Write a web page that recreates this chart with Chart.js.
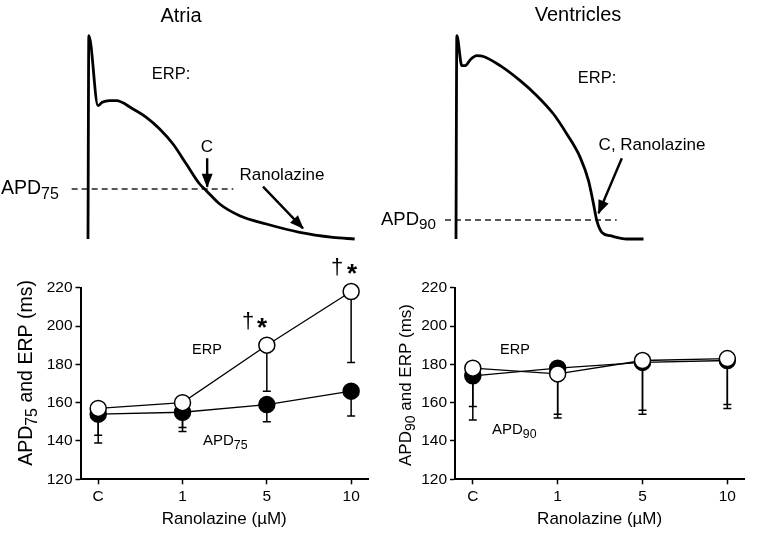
<!DOCTYPE html>
<html><head><meta charset="utf-8">
<script src="https://cdn.jsdelivr.net/npm/chart.js@4.4.1/dist/chart.umd.min.js"></script>
<style>
html,body{margin:0;padding:0;background:#fff;width:757px;height:543px;overflow:hidden}
canvas{position:absolute;display:block}
</style></head><body>
<canvas id="apA" width="378" height="250" style="left:0;top:0"></canvas>
<canvas id="apV" width="379" height="250" style="left:378px;top:0"></canvas>
<canvas id="barA" width="378" height="293" style="left:0;top:250px"></canvas>
<canvas id="barV" width="379" height="293" style="left:378px;top:250px"></canvas>
<script>
// ---------- data ----------
const categories = ['C', '1', '5', '10'];
const yTicks = [120, 140, 160, 180, 200, 220];

const atriaERP = [157, 160, 190, 218];
const atriaERPLow = [143, 147, 166, 181];
const atriaAPD75 = [154, 155, 159, 166];
const atriaAPD75Low = [139, 145, 150, 153];

const ventERP = [178, 175, 182, 183];
const ventERPLow = [158, 154, 156, 159];
const ventAPD90 = [174, 178, 181, 182];
const ventAPD90Low = [151, 152, 154, 157];

// action potential traces (time ms, membrane potential mV)
const atriaTime = [0, 1, 12, 17, 26, 34, 54, 70, 86, 102, 118, 134, 142, 158, 182, 214, 254, 294, 320];
const atriaVm = [-85, 37, -5, -3, -2, -2, -7, -12, -19, -28, -40, -52, -56, -64, -71, -76, -81, -84, -85];
const ventTime = [0, 1, 7, 11, 18, 25, 33, 53, 77, 97, 117, 133, 149, 159, 165, 169, 175, 185, 205, 225];
const ventVm = [-85, 37, 19, 19, 23, 25, 24.5, 19, 10, 1, -10, -22, -36, -50, -64, -74, -81, -83, -85, -85];

// annotation lines (time ms, mV)
const atriaAPD75Line = {t: [-19.6, 174.4], v: [-55, -55]};
const atriaArrowC = {t: [143, 143], v: [-36.6, -53.6]};
const atriaArrowRan = {t: [210, 258], v: [-53.6, -78.6]};
const ventAPD90Line = {t: [-13.2, 192.8], v: [-73.6, -73.6]};
const ventArrow = {t: [199, 171], v: [-36.6, -69.6]};

const FAM = "'Liberation Sans', Arial, Helvetica, sans-serif";

// ---------- helpers ----------
function drawRich(ctx, it) {
  ctx.save();
  ctx.translate(it.x, it.y);
  if (it.rotate) ctx.rotate(it.rotate);
  ctx.textBaseline = 'middle';
  ctx.textAlign = 'left';
  ctx.fillStyle = '#000';
  const fontOf = p => (it.bold ? 'bold ' : '') + (p[1] ? it.size * 0.82 : it.size) + 'px ' + FAM;
  const widths = it.parts.map(p => { ctx.font = fontOf(p); return ctx.measureText(p[0]).width; });
  const total = widths.reduce((a, b) => a + b, 0);
  let x = it.align === 'center' ? -total / 2 : 0;
  it.parts.forEach((p, k) => {
    ctx.font = fontOf(p);
    ctx.fillText(p[0], x, p[1] ? it.size * 0.28 : 0);
    x += widths[k];
  });
  ctx.restore();
}
function textPlugin(items) {
  return { id: 'texts', afterDraw(chart) { items.forEach(it => drawRich(chart.ctx, it)); } };
}
const arrowPlugin = {
  id: 'arrows',
  afterDatasetsDraw(chart) {
    const ctx = chart.ctx;
    chart.data.datasets.forEach((ds, i) => {
      if (!ds.arrow) return;
      const pts = chart.getDatasetMeta(i).data;
      const a = pts[pts.length - 2], b = pts[pts.length - 1];
      const ang = Math.atan2(b.y - a.y, b.x - a.x);
      const L = 13, W = 5.5;
      ctx.save();
      ctx.fillStyle = '#000';
      ctx.beginPath();
      ctx.moveTo(b.x + Math.cos(ang), b.y + Math.sin(ang));
      ctx.lineTo(b.x - L * Math.cos(ang) + W * Math.sin(ang), b.y - L * Math.sin(ang) - W * Math.cos(ang));
      ctx.lineTo(b.x - L * Math.cos(ang) - W * Math.sin(ang), b.y - L * Math.sin(ang) + W * Math.cos(ang));
      ctx.closePath();
      ctx.fill();
      ctx.restore();
    });
  }
};
const errPlugin = {
  id: 'errbars',
  beforeDatasetsDraw(chart) {
    const ctx = chart.ctx, ys = chart.scales.y;
    chart.data.datasets.forEach((ds, i) => {
      if (!ds.lower) return;
      chart.getDatasetMeta(i).data.forEach((pt, j) => {
        const yl = ys.getPixelForValue(ds.lower[j]);
        ctx.save();
        ctx.strokeStyle = '#000';
        ctx.lineWidth = 1.5;
        ctx.beginPath();
        ctx.moveTo(pt.x, pt.y);
        ctx.lineTo(pt.x, yl);
        ctx.moveTo(pt.x - 4, yl);
        ctx.lineTo(pt.x + 4, yl);
        ctx.stroke();
        ctx.restore();
      });
    });
  }
};

function pairs(t, v) { return t.map((x, i) => ({x: x, y: v[i]})); }

function traceChart(id, time, vm, xmin, xmax, dashed, arrows, items) {
  const datasets = [
    { data: pairs(time, vm), borderColor: '#000', borderWidth: 2.8, pointRadius: 0,
      cubicInterpolationMode: 'monotone', borderJoinStyle: 'round' },
    { data: pairs(dashed.t, dashed.v), borderColor: '#222', borderWidth: 1.3, borderDash: [6, 4], pointRadius: 0 }
  ];
  arrows.forEach(a => datasets.push({ data: pairs(a.t, a.v), borderColor: '#000', borderWidth: 2.4, pointRadius: 0, arrow: true }));
  new Chart(document.getElementById(id), {
    type: 'line',
    data: { datasets: datasets },
    options: {
      responsive: false, animation: false, events: [],
      layout: { padding: 0 },
      plugins: { legend: { display: false }, tooltip: { enabled: false } },
      scales: {
        x: { type: 'linear', display: false, min: xmin, max: xmax },
        y: { type: 'linear', display: false, min: -91.6, max: 58.4 }
      }
    },
    plugins: [arrowPlugin, textPlugin(items)]
  });
}

function dataChart(id, erp, erpLow, apd, apdLow, yWidth, padRight, items) {
  const common = { borderColor: '#000', borderWidth: 1.3, pointRadius: 8, pointBorderColor: '#000',
                   pointBorderWidth: 1.5, tension: 0, clip: false };
  new Chart(document.getElementById(id), {
    type: 'line',
    data: { datasets: [
      Object.assign({ label: 'ERP', data: erp.map((v, i) => ({x: i, y: v})), lower: erpLow, pointBackgroundColor: '#fff' }, common),
      Object.assign({ label: 'APD', data: apd.map((v, i) => ({x: i, y: v})), lower: apdLow, pointBackgroundColor: '#000' }, common)
    ]},
    options: {
      responsive: false, animation: false, events: [],
      layout: { padding: { left: 0, top: 37.7, right: padRight, bottom: 0 } },
      plugins: { legend: { display: false }, tooltip: { enabled: false } },
      scales: {
        x: {
          type: 'linear', min: -0.21, max: 3.2,
          afterBuildTicks: s => { s.ticks = categories.map((c, i) => ({ value: i })); },
          afterFit: s => { s.height = 63.7; },
          ticks: { callback: v => categories[v], font: { size: 15.5, family: FAM }, color: '#000', padding: 3, maxRotation: 0, autoSkip: false },
          grid: { display: true, drawOnChartArea: false, drawTicks: true, tickLength: 5, tickWidth: 1.5, tickColor: '#000', color: '#000' },
          border: { display: true, width: 2, color: '#000' },
          title: { display: true, text: 'Ranolazine (µM)', font: { size: 17, family: FAM }, color: '#000', padding: { top: 0, bottom: 13.8 } }
        },
        y: {
          type: 'linear', min: 120, max: 220,
          afterBuildTicks: s => { s.ticks = yTicks.map(v => ({ value: v })); },
          afterFit: s => { s.width = yWidth; },
          ticks: { font: { size: 15.5, family: FAM }, color: '#000', padding: 3 },
          grid: { display: true, drawOnChartArea: false, drawTicks: true, tickLength: 5, tickWidth: 1.5, tickColor: '#000', color: '#000' },
          border: { display: true, width: 2, color: '#000' }
        }
      }
    },
    plugins: [errPlugin, textPlugin(items)]
  });
}

// ---------- charts ----------
traceChart('apA', atriaTime, atriaVm, -105.6, 348, atriaAPD75Line, [atriaArrowC, atriaArrowRan], [
  { parts: [['Atria']], x: 181, y: 16, size: 20, align: 'center' },
  { parts: [['ERP:']], x: 171, y: 74, size: 16.5, align: 'center' },
  { parts: [['C']], x: 207, y: 147, size: 17, align: 'center' },
  { parts: [['Ranolazine']], x: 282, y: 175, size: 17, align: 'center' },
  { parts: [['APD'], ['75', 1]], x: 1, y: 189, size: 19.5, align: 'left' }
]);
traceChart('apV', ventTime, ventVm, -93.6, 361.2, ventAPD90Line, [ventArrow], [
  { parts: [['Ventricles']], x: 200, y: 15, size: 20, align: 'center' },
  { parts: [['ERP:']], x: 219, y: 78, size: 16.5, align: 'center' },
  { parts: [['C, Ranolazine']], x: 274, y: 145, size: 17, align: 'center' },
  { parts: [['APD'], ['90', 1]], x: 3, y: 220, size: 18.5, align: 'left' }
]);
dataChart('barA', atriaERP, atriaERPLow, atriaAPD75, atriaAPD75Low, 80.5, 10, [
  { parts: [['APD'], ['75', 1], [' and ERP (ms)']], x: 27, y: 123, size: 19.5, align: 'center', rotate: -Math.PI / 2 },
  { parts: [['ERP']], x: 207, y: 100, size: 14.5, align: 'center' },
  { parts: [['APD'], ['75', 1]], x: 203, y: 191, size: 15, align: 'left' },
  { parts: [['†']], x: 248, y: 72, size: 22, align: 'center' },
  { parts: [['*']], x: 262, y: 79, size: 26, align: 'center', bold: true },
  { parts: [['†']], x: 337, y: 18, size: 22, align: 'center' },
  { parts: [['*']], x: 352, y: 25, size: 26, align: 'center', bold: true }
]);
dataChart('barV', ventERP, ventERPLow, ventAPD90, ventAPD90Low, 77, 12.7, [
  { parts: [['APD'], ['90', 1], [' and ERP (ms)']], x: 28, y: 135, size: 17, align: 'center', rotate: -Math.PI / 2 },
  { parts: [['ERP']], x: 137, y: 100, size: 14.5, align: 'center' },
  { parts: [['APD'], ['90', 1]], x: 114, y: 180, size: 15, align: 'left' }
]);
</script>
</body></html>
